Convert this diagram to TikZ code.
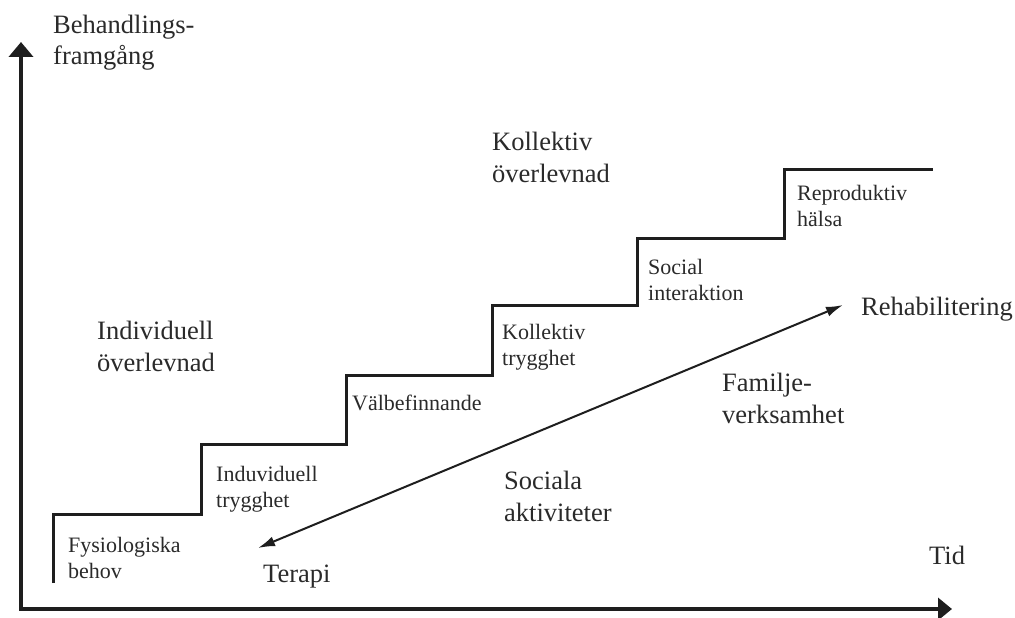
\documentclass[tikz,border=0pt]{standalone}
\usepackage{fontspec}
\setmainfont{Liberation Serif}
\usetikzlibrary{arrows.meta}
\definecolor{ink}{HTML}{1E1E1E}
\definecolor{txt}{HTML}{2A2A2A}
\tikzset{
  axis/.style={line width=4.5pt, draw=ink, line join=miter},
  stair/.style={line width=3pt, draw=ink, line join=miter},
  twoway/.style={line width=2pt, draw=ink, {Latex[length=17pt,width=10pt]}-{Latex[length=17pt,width=10pt]}},
  big/.style={anchor=base west, inner sep=0pt, align=left, text=txt, font=\fontsize{26.5}{32}\selectfont},
  small/.style={anchor=base west, inner sep=0pt, align=left, text=txt, font=\fontsize{22}{26}\selectfont}
}
\begin{document}
\begin{tikzpicture}[x=1pt,y=-1pt]
\useasboundingbox (0,0) rectangle (1015,618);
% axes
\coordinate (ytip) at (21,42);
\coordinate (orig) at (21,609);
\coordinate (xtip) at (952,609);
\draw[axis, {Triangle[length=15pt,width=24pt]}-{Triangle[length=14pt,width=22pt]}] (ytip) -- (orig) -- (xtip);
% staircase
\draw[stair] (53,583) -- (53,514) -- (201,514) -- (201,444) -- (346,444) -- (346,375)
  -- (492,375) -- (492,305) -- (637,305) -- (637,238) -- (784,238) -- (784,169) -- (933,169);
% labels (base west of a two-line node = baseline of its last line)
\node[big] (yl) at (53,65) {Behandlings-\\framgång};
\node[big] (kol) at (492,182) {Kollektiv\\överlevnad};
\node[big] (ind) at (97,371) {Individuell\\överlevnad};
\node[big] (soc) at (504,521) {Sociala\\aktiviteter};
\node[big] (fam) at (722,423) {Familje-\\verksamhet};
\node[big] (reh) at (861,315) {Rehabilitering};
\node[big] (ter) at (263,582) {Terapi};
\node[big] (tid) at (929,564) {Tid};
\node[small] (s1) at (68,578) {Fysiologiska\\behov};
\node[small] (s2) at (216,507) {Induviduell\\trygghet};
\node[small] (s3) at (352,410) {Välbefinnande};
\node[small] (s4) at (502,365) {Kollektiv\\trygghet};
\node[small] (s5) at (648,300) {Social\\interaktion};
\node[small] (s6) at (797,226) {Reproduktiv\\hälsa};
% double arrow
\coordinate (a1) at (258,548);
\coordinate (a2) at (843,305);
\draw[twoway] (a1) -- (a2);
\end{tikzpicture}
\end{document}
